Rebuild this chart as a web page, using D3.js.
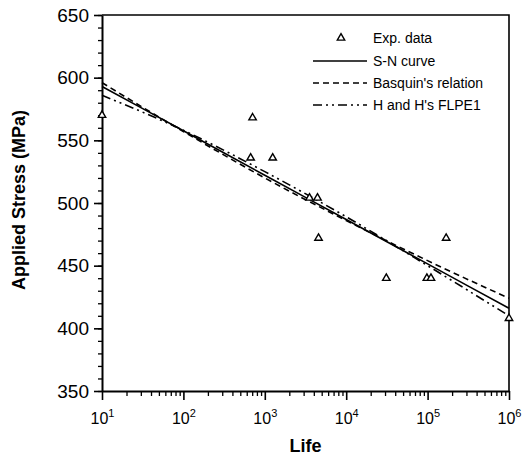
<!DOCTYPE html>
<html>
<head>
<meta charset="utf-8">
<script src="https://cdn.jsdelivr.net/npm/d3@7"></script>
<style>
  body { margin: 0; background: #fff; }
  svg { display: block; font-family: "Liberation Sans", Arial, sans-serif; }
</style>
</head>
<body>
<div id="chart"></div>
<script>
// Experimental points (life in cycles, stress in MPa)
const expLife   = [10, 670, 708, 1250, 3540, 4440, 4570, 31100, 98000, 110000, 169000, 1000000];
const expStress = [570, 536, 568, 536, 504, 504, 472, 440, 440, 440, 472, 408];

// Fitted curves, read at each decade
const curveLife      = [10, 100, 1000, 10000, 100000, 1000000];
const snStress       = [593, 557.6, 522.2, 486.8, 451.4, 416];
const basquinStress  = [596, 557, 520, 486, 454, 424];
const flpeStress     = [586, 558, 525, 489, 450, 410];

const legendLabels = ["Exp. data", "S-N curve", "Basquin's relation", "H and H's FLPE1"];
const yTicks = [350, 400, 450, 500, 550, 600, 650];
const xTicks = [1e1, 1e2, 1e3, 1e4, 1e5, 1e6];

const svgWidth = 524, svgHeight = 458;
const svg = d3.select("#chart").append("svg")
    .attr("width", svgWidth).attr("height", svgHeight);

const x = d3.scaleLog().domain([10, 1e6]).range([102, 509]);
const y = d3.scaleLinear().domain([350, 650]).range([391, 15]);

// frame (top and right)
svg.append("path")
    .attr("d", `M${x(10)},${y(650)}H${x(1e6)}V${y(350)}`)
    .attr("fill", "none").attr("stroke", "#000").attr("stroke-width", 1.6);

// y axis: minor ticks every 10, majors every 50
svg.append("g")
    .attr("transform", `translate(${x(10)},0)`)
    .call(d3.axisLeft(y).tickValues(d3.range(350, 651, 10)).tickSize(4).tickFormat(""))
    .call(g => g.select(".domain").remove())
    .selectAll("line").attr("stroke-width", 1.3);

const yAxis = svg.append("g")
    .attr("transform", `translate(${x(10)},0)`)
    .call(d3.axisLeft(y).tickValues(yTicks).tickSize(8).tickSizeOuter(0).tickPadding(5));
yAxis.select(".domain").attr("stroke-width", 2);
yAxis.selectAll("line").attr("stroke-width", 1.6);
yAxis.selectAll("text").attr("font-size", 19).attr("fill", "#000")
    .attr("font-family", "Liberation Sans, Arial, sans-serif");

// x axis: log minor ticks
const minorX = [];
for (let d = 10; d < 1e6; d *= 10) for (let k = 2; k <= 9; k++) minorX.push(d * k);
svg.append("g")
    .attr("transform", `translate(0,${y(350)})`)
    .call(d3.axisBottom(x).tickValues(minorX).tickSize(5).tickFormat(""))
    .call(g => g.select(".domain").remove())
    .selectAll("line").attr("stroke-width", 1.3);

const xAxis = svg.append("g")
    .attr("transform", `translate(0,${y(350)})`)
    .call(d3.axisBottom(x).tickValues(xTicks).tickSize(9).tickSizeOuter(0).tickPadding(13).tickFormat(""));
xAxis.select(".domain").attr("stroke-width", 2);
xAxis.selectAll("line").attr("stroke-width", 1.6);
xAxis.selectAll(".tick text")
    .attr("font-size", 16).attr("fill", "#000")
    .attr("font-family", "Liberation Sans, Arial, sans-serif")
    .each(function (d) {
        const t = d3.select(this);
        t.append("tspan").text("10");
        t.append("tspan").attr("dy", -7).attr("font-size", 11).text(Math.round(Math.log10(d)));
    });

// axis titles
svg.append("text")
    .attr("x", (x(10) + x(1e6)) / 2).attr("y", 452)
    .attr("text-anchor", "middle")
    .attr("font-size", 18).attr("font-weight", "bold")
    .text("Life");

svg.append("text")
    .attr("transform", "rotate(-90)")
    .attr("x", -200).attr("y", 25)
    .attr("text-anchor", "middle")
    .attr("font-size", 18).attr("font-weight", "bold")
    .text("Applied Stress (MPa)");

// curves
const line = d3.line()
    .x(d => x(d[0]))
    .y(d => y(d[1]))
    .curve(d3.curveMonotoneX);

const curves = [
    { values: snStress, dash: null },
    { values: basquinStress, dash: "6,4" },
    { values: flpeStress, dash: "9,4,2,4,2,4" }
];

svg.selectAll(".curve")
    .data(curves)
    .enter().append("path")
    .attr("class", "curve")
    .attr("d", c => line(curveLife.map((l, i) => [l, c.values[i]])))
    .attr("fill", "none")
    .attr("stroke", "#000")
    .attr("stroke-width", 1.6)
    .attr("stroke-dasharray", c => c.dash);

// experimental data
const tri = d3.symbol().type(d3.symbolTriangle).size(24);
svg.selectAll(".pt")
    .data(expLife.map((l, i) => [l, expStress[i]]))
    .enter().append("path")
    .attr("class", "pt")
    .attr("transform", d => `translate(${x(d[0])},${y(d[1])})`)
    .attr("d", tri)
    .attr("fill", "#fff")
    .attr("stroke", "#000")
    .attr("stroke-width", 1.4);

// legend
const legend = svg.append("g");
const rowY = [38, 61, 83, 105];
legend.append("path")
    .attr("transform", `translate(341,${rowY[0]})`)
    .attr("d", tri)
    .attr("fill", "#fff").attr("stroke", "#000").attr("stroke-width", 1.4);

curves.forEach((c, i) => {
    legend.append("line")
        .attr("x1", 313).attr("x2", 367)
        .attr("y1", rowY[i + 1]).attr("y2", rowY[i + 1])
        .attr("stroke", "#000").attr("stroke-width", 1.6)
        .attr("stroke-dasharray", c.dash);
});

legend.selectAll("text")
    .data(legendLabels)
    .enter().append("text")
    .attr("x", 373)
    .attr("y", (d, i) => rowY[i])
    .attr("dy", "0.35em")
    .attr("font-size", 14)
    .text(d => d);
</script>
</body>
</html>
